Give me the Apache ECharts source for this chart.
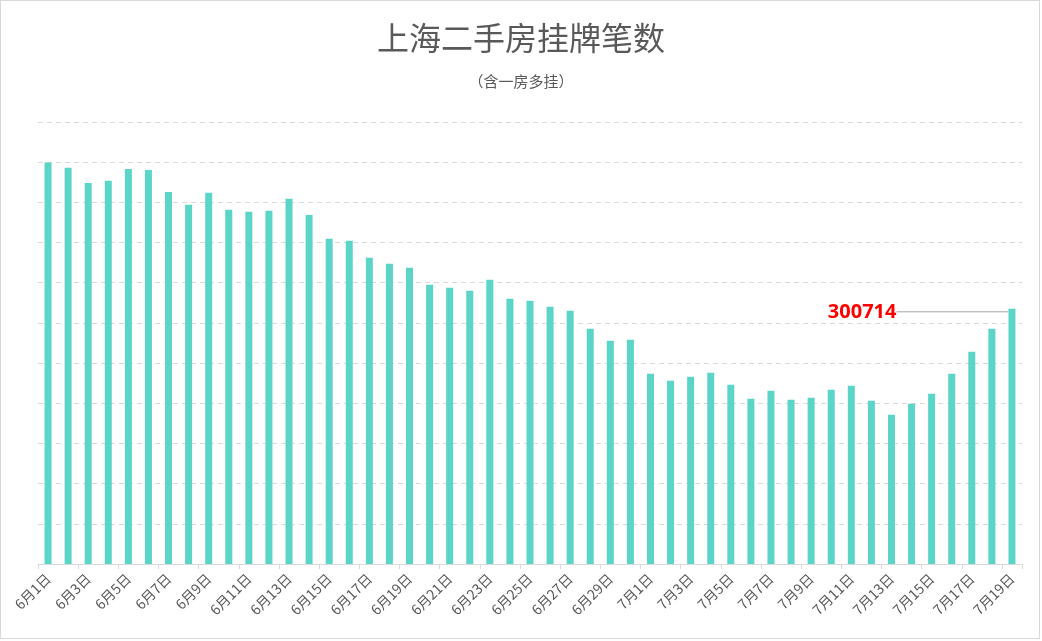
<!DOCTYPE html>
<html>
<head>
<meta charset="utf-8">
<script src="https://cdn.jsdelivr.net/npm/echarts@6/dist/echarts.min.js"></script>
<style>
html,body{margin:0;padding:0;background:#fff;}
#main{width:1042px;height:641px;position:absolute;left:0;top:0;}
#frame{position:absolute;left:0;top:0;width:1038px;height:637px;border:1px solid #d9d9d9;pointer-events:none;}
</style>
</head>
<body>
<div id="main"></div>
<div id="frame"></div>
<script>
var titleText = '上海二手房挂牌笔数';
var subtitleText = '（含一房多挂）';
var categories = [
  '6月1日','6月2日','6月3日','6月4日','6月5日','6月6日','6月7日','6月8日','6月9日','6月10日',
  '6月11日','6月12日','6月13日','6月14日','6月15日','6月16日','6月17日','6月18日','6月19日','6月20日',
  '6月21日','6月22日','6月23日','6月24日','6月25日','6月26日','6月27日','6月28日','6月29日','6月30日',
  '7月1日','7月2日','7月3日','7月4日','7月5日','7月6日','7月7日','7月8日','7月9日','7月10日',
  '7月11日','7月12日','7月13日','7月14日','7月15日','7月16日','7月17日','7月18日','7月19日'
];
var listings = [
  473000, 466800, 449100, 451500, 465600, 464400, 438500, 423200, 437400, 417300,
  415000, 416200, 430300, 411400, 383200, 380800, 360800, 353700, 349000, 329000,
  325500, 321900, 334900, 312500, 310100, 303100, 298500, 277200, 263000, 264200,
  224200, 215900, 220600, 225300, 211200, 194700, 204100, 193500, 195900, 205300,
  210000, 192400, 175900, 188800, 200600, 224200, 250100, 277200, 300714
];
var yMin = 0, yInterval = 47350, yMax = 47350 * 11;

var lastIdx = listings.length - 1;
var seriesData = listings.map(function (v, i) {
  if (i === lastIdx) {
    return {
      value: v,
      label: {
        show: true,
        formatter: '{c}',
        color: '#ff0000',
        fontWeight: 'bold',
        fontSize: 20,
        fontFamily: 'Noto Sans, sans-serif'
      },
      labelLine: { show: true, lineStyle: { color: '#a6a6a6', width: 1 } }
    };
  }
  return v;
});

var chart = echarts.init(document.getElementById('main'));
chart.setOption({
  animation: false,
  backgroundColor: '#fff',
  title: {
    text: titleText,
    subtext: subtitleText,
    left: 'center',
    top: 17,
    itemGap: 20,
    textStyle: { fontSize: 32, fontWeight: 'normal', color: '#595959', fontFamily: 'Noto Sans CJK SC' },
    subtextStyle: { fontSize: 15, color: '#595959', fontFamily: 'Noto Sans CJK SC' }
  },
  grid: { left: 38, right: 20, top: 122, bottom: 77, containLabel: false },
  xAxis: {
    type: 'category',
    data: categories,
    boundaryGap: true,
    axisLine: { lineStyle: { color: '#d9d9d9' } },
    axisTick: { show: true, interval: 1, lineStyle: { color: '#d9d9d9' } },
    axisLabel: {
      interval: 1,
      rotate: 45,
      margin: 12,
      color: '#595959',
      fontSize: 14,
      fontFamily: 'Noto Sans CJK SC'
    }
  },
  yAxis: {
    type: 'value',
    min: yMin,
    max: yMax,
    interval: yInterval,
    axisLabel: { show: false },
    axisLine: { show: false },
    axisTick: { show: false },
    splitLine: { lineStyle: { color: '#d9d9d9', type: [5, 4] } }
  },
  series: [{
    type: 'bar',
    data: seriesData,
    barWidth: 7,
    itemStyle: { color: '#5ad5c8' },
    label: { show: false },
    labelLayout: function (params) {
      if (params.dataIndex !== lastIdx) return {};
      return {
        x: params.rect.x - 112,
        y: params.rect.y + 3,
        align: 'right',
        verticalAlign: 'middle'
      };
    }
  }]
});
</script>
</body>
</html>
